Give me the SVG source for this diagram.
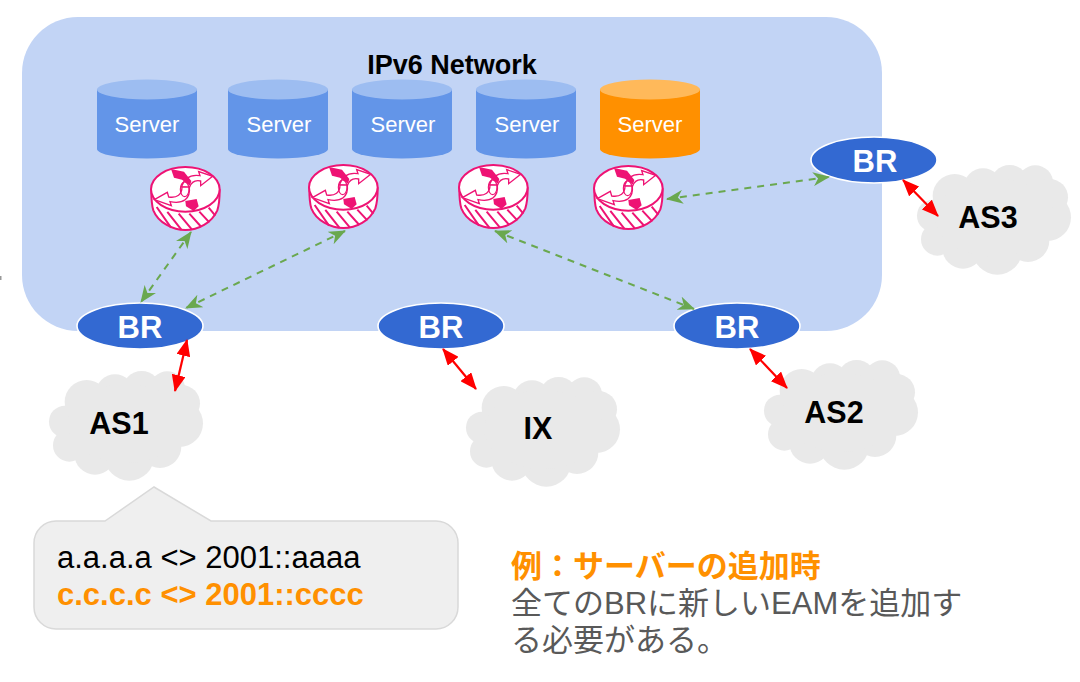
<svg xmlns="http://www.w3.org/2000/svg" xmlns:xlink="http://www.w3.org/1999/xlink" width="1080" height="682" viewBox="0 0 1080 682">
<style>
text{font-family:"Liberation Sans","Noto Sans CJK JP",sans-serif}
.srv{fill:#fff;font-size:22px;text-anchor:middle}
.br{fill:#fff;font-size:31px;font-weight:bold;text-anchor:middle}
.brs{fill:#3369d2;stroke:#fff;stroke-width:1.6}
.as{fill:#000;font-size:30.500px;font-weight:bold;text-anchor:middle}
.g{stroke:#6aa84f;stroke-width:2;stroke-dasharray:7 6;fill:none;marker-start:url(#ga);marker-end:url(#ga)}
.r{stroke:#f00;stroke-width:2.200;fill:none;marker-start:url(#ra);marker-end:url(#ra)}
.p{fill:none;stroke:#ee1374;stroke-width:6}
.pw{fill:#fff;stroke:#ee1374;stroke-width:4}
.note{font-size:31px}
</style>
<defs>
<marker id="ga" viewBox="0 0 17 14" refX="16" refY="7" markerWidth="17" markerHeight="14" markerUnits="userSpaceOnUse" orient="auto-start-reverse"><path d="M0 0L17 7L0 14L5 7Z" fill="#6aa84f"/></marker>
<marker id="ra" viewBox="0 0 17 14" refX="16" refY="7" markerWidth="17" markerHeight="14" markerUnits="userSpaceOnUse" orient="auto-start-reverse"><path d="M0 0L17 7L0 14Z" fill="#f00"/></marker>
<symbol id="cl" viewBox="0 0 154 110" width="154" height="110" overflow="visible">
<g fill="#e9e9e9" transform="scale(.3333) translate(-57 -243)">
<circle cx="170" cy="336" r="66"/><circle cx="255" cy="311" r="58"/><circle cx="335" cy="301" r="58"/><circle cx="412" cy="298" r="54"/><circle cx="455" cy="340" r="55"/><circle cx="448" cy="400" r="71"/><circle cx="390" cy="470" r="64"/><circle cx="298" cy="497" r="75"/><circle cx="195" cy="492" r="62"/><circle cx="118" cy="466" r="49"/><circle cx="105" cy="395" r="48"/><ellipse cx="290" cy="400" rx="178" ry="118"/>
</g>
</symbol>
<symbol id="rt" viewBox="0 0 72 66" width="72" height="66" overflow="visible">
<g transform="scale(.3333) translate(-180 -287)">
<path class="pw" style="stroke-width:6" d="M184 360C184 395 186 408 190 420C205 458 250 479 286 479C325 479 365 458 382 420C387 405 389 390 389 360Z"/>
<path class="p" d="M200 410L243 472M232 425L274 478M266 430L306 478M298 430L334 470M328 424L358 456M356 412L376 436"/>
<ellipse class="pw" style="stroke-width:6" cx="286" cy="357" rx="103" ry="67"/>
<path class="pw" d="M274 350C284 320 305 312 330 316L326 304L368 318L332 346L332 332C314 328 304 335 298 352Z"/>
<path class="pw" d="M298 350C302 385 280 402 240 394L244 406L193 388L232 366L236 380C262 384 276 372 276 350Z"/>
<ellipse class="p" cx="284" cy="357" rx="13" ry="22" style="stroke-width:3.500"/>
<path d="M243 296L282 304L304 332L300 346L276 328L252 322Z" fill="#ee1374"/>
<path d="M286 392L320 386L326 408L311 422L288 408Z" fill="#ee1374"/>
</g>
</symbol>
</defs>
<rect width="1080" height="682" fill="#fff"/>
<rect x="0" y="276" width="1.500" height="4" fill="#999"/>
<rect x="22" y="17" width="860" height="314" rx="56" fill="#c2d4f5"/>
<text x="452" y="74" style="font-size:27px;font-weight:bold;text-anchor:middle" id="title">IPv6 Network</text>
<g id="server1"><path d="M97 89V149A50 9.500 0 0 0 197 149V89Z" fill="#6395e8"/><ellipse cx="147" cy="89.500" rx="50" ry="10" fill="#9dbdf1"/><text class="srv" x="147" y="132">Server</text></g>
<g id="server2"><path d="M228 89V149A50 9.500 0 0 0 328 149V89Z" fill="#6395e8"/><ellipse cx="278" cy="89.500" rx="50" ry="10" fill="#9dbdf1"/><text class="srv" x="279" y="132">Server</text></g>
<g id="server3"><path d="M352 89V149A50 9.500 0 0 0 452 149V89Z" fill="#6395e8"/><ellipse cx="402" cy="89.500" rx="50" ry="10" fill="#9dbdf1"/><text class="srv" x="403" y="132">Server</text></g>
<g id="server4"><path d="M476 89V149A50 9.500 0 0 0 576 149V89Z" fill="#6395e8"/><ellipse cx="526" cy="89.500" rx="50" ry="10" fill="#9dbdf1"/><text class="srv" x="527" y="132">Server</text></g>
<g id="server5"><path d="M600 89V149A50 9.500 0 0 0 700 149V89Z" fill="#ff9000"/><ellipse cx="650" cy="89.500" rx="50" ry="10" fill="#ffb95a"/><text class="srv" x="650" y="132">Server</text></g>
<g id="router1"><use xlink:href="#rt" href="#rt" x="150" y="166"/></g>
<g id="router2"><use xlink:href="#rt" href="#rt" x="308" y="164"/></g>
<g id="router3"><use xlink:href="#rt" href="#rt" x="458" y="164"/></g>
<g id="router4"><use xlink:href="#rt" href="#rt" x="593" y="165"/></g>
<g id="cloud-as1"><use xlink:href="#cl" href="#cl" x="49" y="371"/><text class="as" x="119" y="434">AS1</text></g>
<g id="cloud-ix"><use xlink:href="#cl" href="#cl" x="466" y="377"/><text class="as" x="538" y="439">IX</text></g>
<g id="cloud-as2"><use xlink:href="#cl" href="#cl" x="764" y="360"/><text class="as" x="834" y="423">AS2</text></g>
<g id="cloud-as3"><use xlink:href="#cl" href="#cl" x="917" y="165"/><text class="as" x="988" y="228">AS3</text></g>
<g id="br1"><ellipse class="brs" cx="140" cy="326" rx="63" ry="23"/><text class="br" x="140" y="338">BR</text></g>
<g id="br2"><ellipse class="brs" cx="441" cy="326" rx="63" ry="23"/><text class="br" x="441" y="338">BR</text></g>
<g id="br3"><ellipse class="brs" cx="737" cy="326" rx="63" ry="23"/><text class="br" x="737" y="338">BR</text></g>
<g id="br4"><ellipse class="brs" cx="874" cy="160" rx="63" ry="23"/><text class="br" x="875" y="172">BR</text></g>
<g id="connectors">
<path class="g" d="M191 232L141 302"/>
<path class="g" d="M345 231L186 308"/>
<path class="g" d="M495 231L694 309"/>
<path class="g" d="M667 199L829 177"/>
<path class="r" d="M187 340L175 391"/>
<path class="r" d="M443 349L476 389"/>
<path class="r" d="M750 349L787 388"/>
<path class="r" d="M903 180L938 216"/>
</g>
<g id="callout">
<path d="M56 521H105L154 487L211 521H436A22 22 0 0 1 458 543V607A22 22 0 0 1 436 629H56A22 22 0 0 1 34 607V543A22 22 0 0 1 56 521Z" fill="#efefef" stroke="#d9d9d9" stroke-width="1.500"/>
<text x="57" y="568" style="font-size:31px" fill="#000">a.a.a.a &lt;&gt; 2001::aaaa</text>
<text x="57" y="605" style="font-size:31px;font-weight:bold" fill="#ff9000">c.c.c.c &lt;&gt; 2001::cccc</text>
</g>
<g id="note">
<text class="note" x="511" y="577" style="font-weight:bold" fill="#ff9000">例&#xFF1A;サーバーの追加時</text>
<text class="note" x="511" y="614" fill="#595959">全てのBRに新しいEAMを追加す</text>
<text class="note" x="511" y="651" fill="#595959">る必要がある。</text>
</g>
</svg>
